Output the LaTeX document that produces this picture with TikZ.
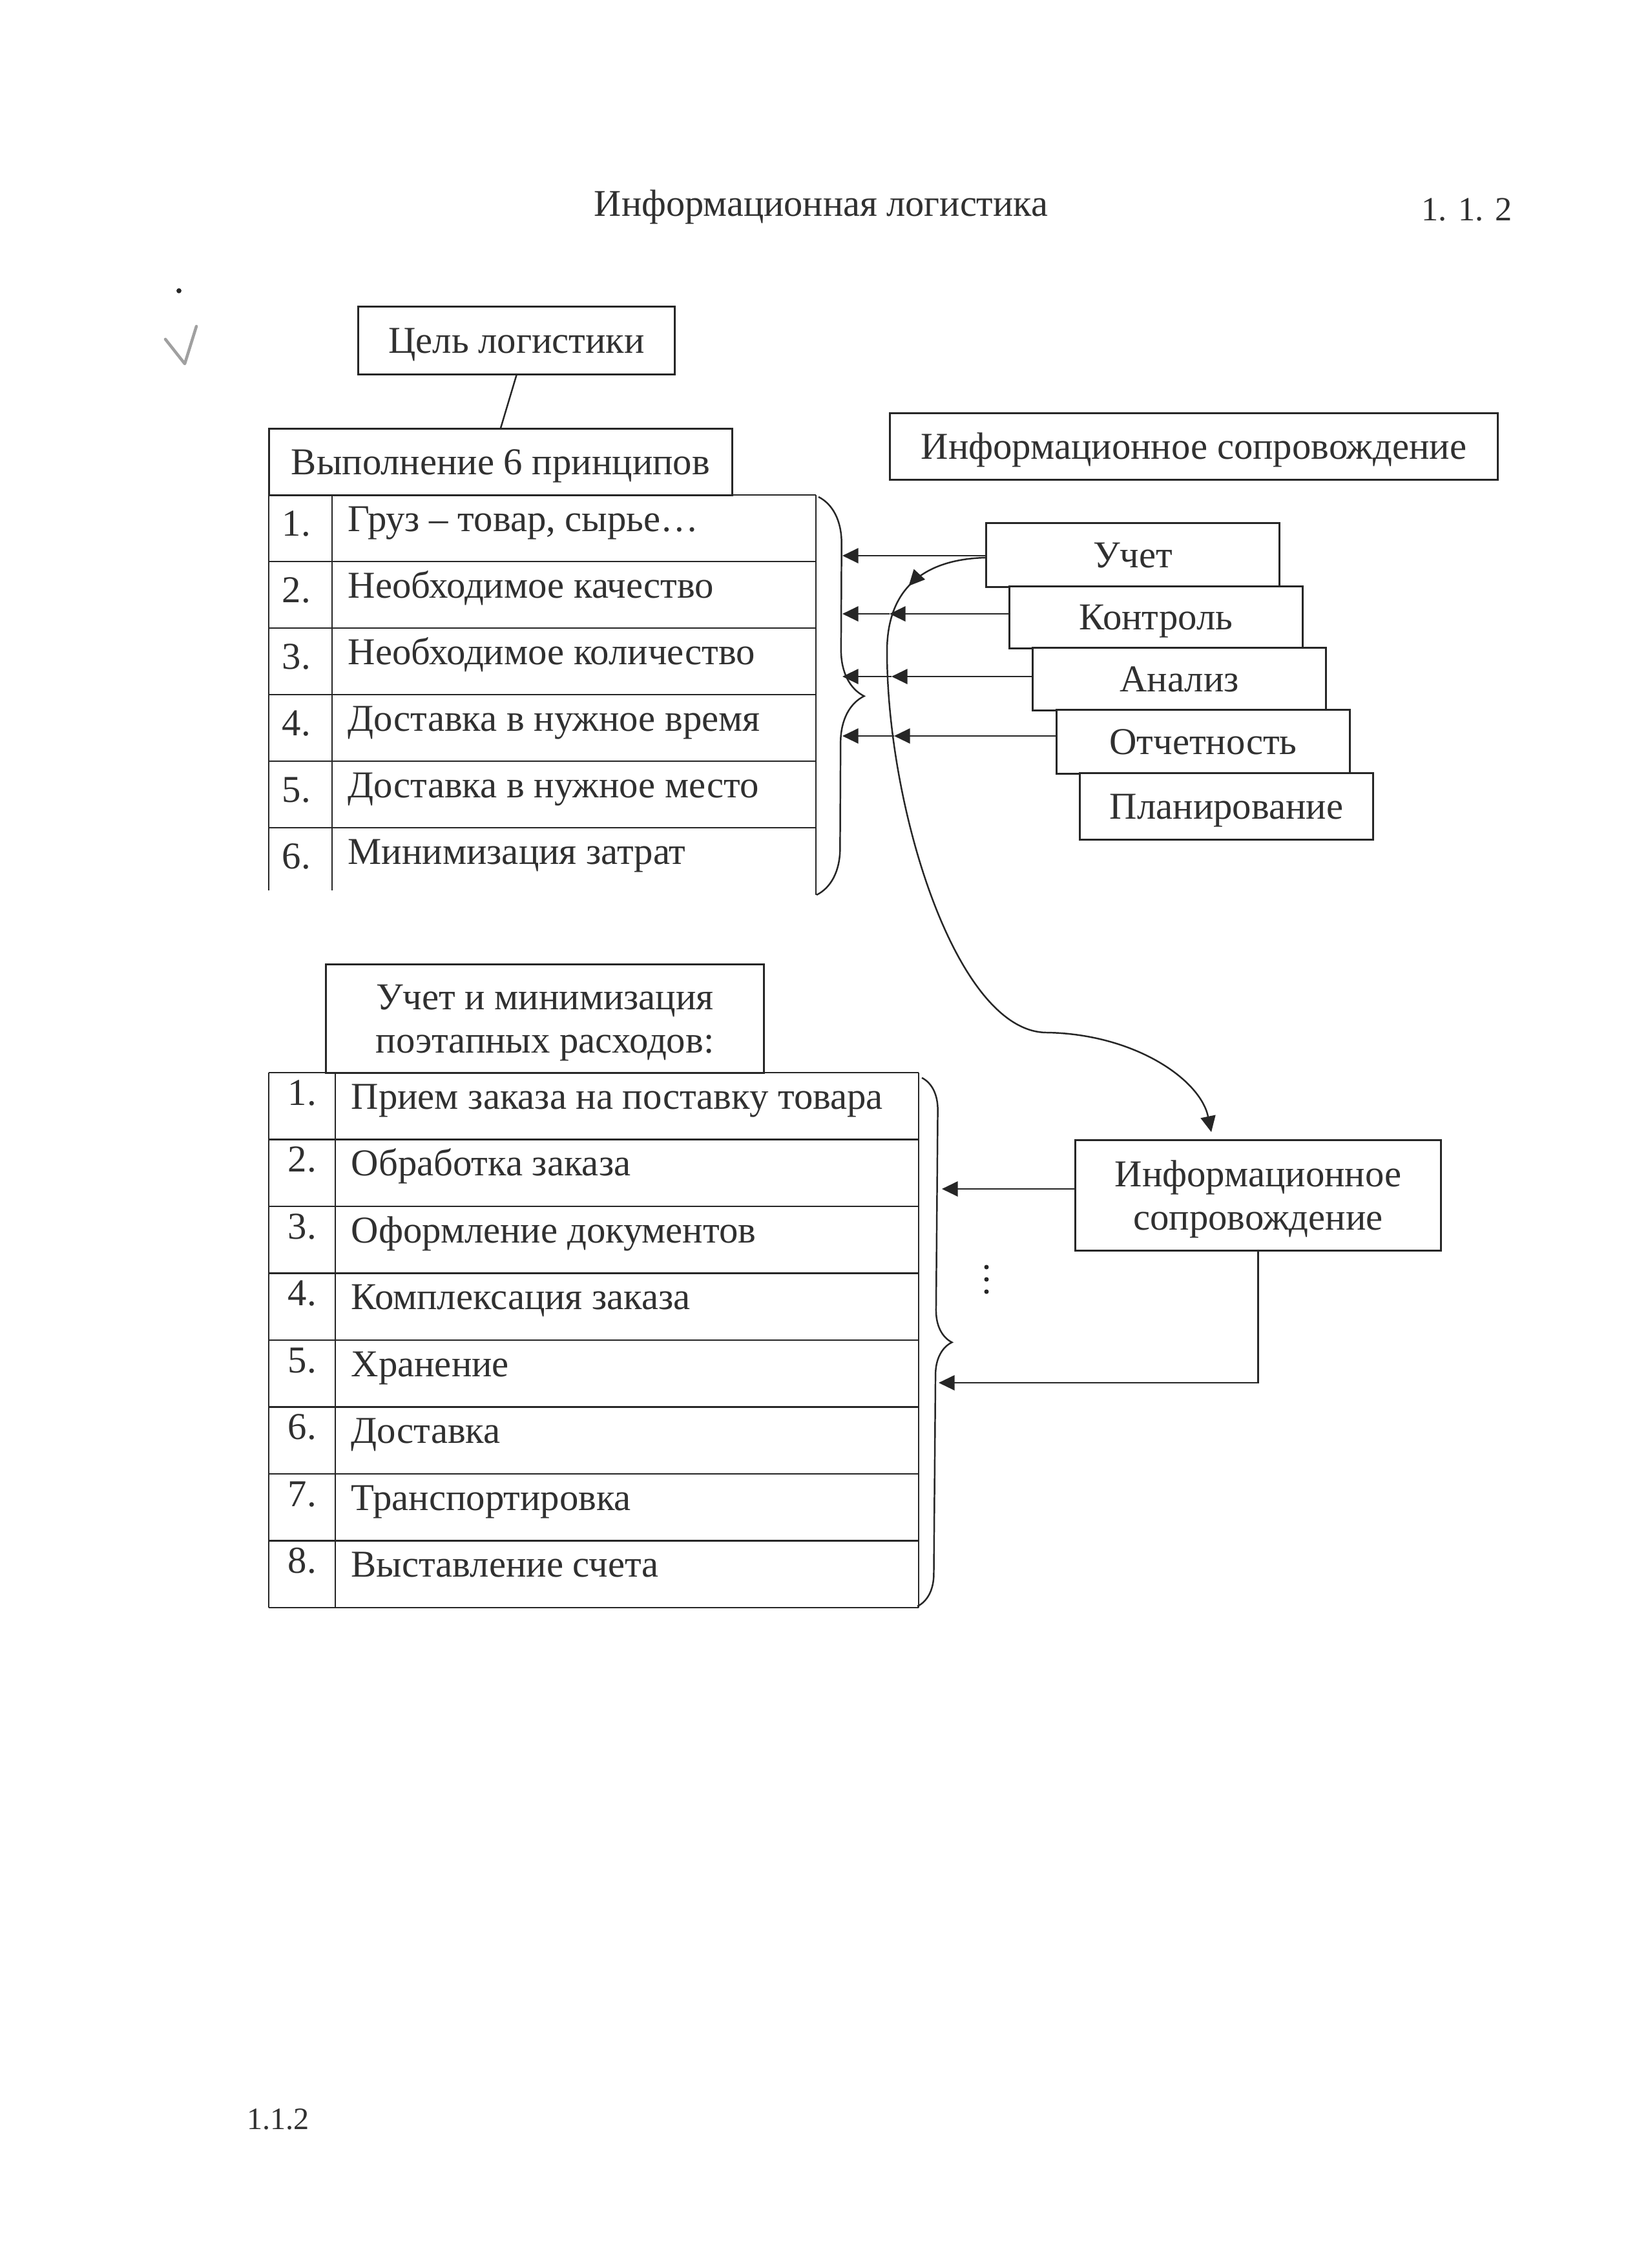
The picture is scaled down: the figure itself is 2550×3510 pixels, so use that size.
\documentclass[tikz,border=0pt]{standalone}
\usepackage{fontspec}
\setmainfont{Liberation Serif}
\usetikzlibrary{arrows.meta,decorations.pathreplacing,decorations.markings,calc}

\definecolor{ink}{HTML}{262626}
\definecolor{txt}{HTML}{303030}
\definecolor{pencil}{HTML}{A0A0A0}

\newcommand{\bodyfont}{\fontsize{16.7}{19}\selectfont}

\begin{document}
\begin{tikzpicture}[x=0.01cm,y=-0.01cm,
  every node/.style={text=txt, inner sep=0pt, font=\bodyfont},
  boxA/.style={draw=ink, line width=0.85pt, fill=white,
    text height=11.05pt, text depth=0pt},
  boxB/.style={draw=ink, line width=0.85pt, fill=white, align=center,
    font=\fontsize{16.7}{19.1}\selectfont, text depth=0pt},
  tline/.style={draw=ink, line width=0.6pt},
  brc/.style={draw=ink, line width=0.7pt, decorate},
  tipA/.style={-{Triangle[length=7pt,width=6.6pt]}},
  arr/.style={draw=ink, line width=0.7pt, tipA},
  conn/.style={draw=ink, line width=0.7pt}
]
% page
\fill[white] (0,0) rectangle (2550,3510);
\useasboundingbox (0,0) rectangle (2550,3510);

% page header and footer
\node[anchor=base, font=\fontsize{16.6}{19}\selectfont] (title) at (1271,335) {Информационная логистика};
\node[anchor=base west, font=\fontsize{14.9}{17}\selectfont] (pnum) at (2200,342) {1. 1. 2};
\node[anchor=base west, font=\fontsize{13.7}{16}\selectfont] (foot) at (382,3295) {1.1.2};

% pencil tick in the margin
\draw[pencil, line width=1.3pt, line cap=round, line join=round]
  (256,525) -- (286,563) -- (304,505);
\fill[ink] (277,450) circle[radius=1.1pt];

% goal and principles
\node[boxA, minimum width=4.89cm, minimum height=1.04cm] (cel) at (799.5,527) {Цель логистики};
\node[boxA, minimum width=7.16cm, minimum height=1.02cm] (vyp) at (775,715) {Выполнение 6 принципов};
\draw[conn] (cel.south) -- (vyp.north);

% table of principles (open at the bottom)
\draw[tline] (416,766) -- (1263,766);
\foreach \yy in {869,972,1075,1178,1281} \draw[tline] (416,\yy) -- (1263,\yy);
\draw[tline] (416,766) -- (416,1378);
\draw[tline] (514,766) -- (514,1378);
\draw[tline] (1263,766) -- (1263,1385);
\foreach \t [count=\i] in {{Груз – товар, сырье…},{Необходимое качество},{Необходимое количество},{Доставка в нужное время},{Доставка в нужное место},{Минимизация затрат}}{
  \pgfmathsetmacro{\top}{766+103*(\i-1)}
  \node[anchor=base] (pn\i) at (459,\top+63) {\i.};
  \node[anchor=base west] (pt\i) at (538,\top+56) {\t};
}

% brace over the principles
\coordinate (br1a) at (1267,769);
\coordinate (br1b) at (1264,1385);
\draw[brc, decoration={brace, amplitude=0.72cm}] (br1a) -- (br1b);

% information support, upper part
\node[boxA, minimum width=9.40cm, minimum height=1.02cm] (info1) at (1848,691) {Информационное сопровождение};
\node[boxA, minimum width=4.53cm, minimum height=0.98cm] (uchet) at (1753.5,859) {Учет};
\node[boxA, minimum width=4.53cm, minimum height=0.95cm] (kontrol) at (1789.5,955.5) {Контроль};
\node[boxA, minimum width=4.53cm, minimum height=0.96cm] (analiz) at (1825.5,1051) {Анализ};
\node[boxA, minimum width=4.53cm, minimum height=0.98cm] (otchet) at (1862.5,1148) {Отчетность};
\node[boxA, minimum width=4.53cm, minimum height=1.02cm] (plan) at (1898.5,1248) {Планирование};

% arrows into the brace
\coordinate (a1) at (1304,860);
\coordinate (a2) at (1304,950);
\coordinate (a3) at (1304,1047);
\coordinate (a4) at (1304,1139);
\coordinate (m2) at (1377,950);
\coordinate (m3) at (1380,1047);
\coordinate (m4) at (1384,1139);
\draw[arr] (uchet.west |- a1) -- (a1);
\draw[arr] (kontrol.west |- a2) -- (m2);
\draw[arr] (m2) -- (a2);
\draw[arr] (analiz.west |- a3) -- (m3);
\draw[arr] (m3) -- (a3);
\draw[arr] (otchet.west |- a4) -- (m4);
\draw[arr] (m4) -- (a4);

% costs by stage
\node[boxB, minimum width=6.77cm, minimum height=1.67cm] (uchmin) at (843.5,1576.5) {Учет и минимизация\\поэтапных расходов:};
\foreach \yy in {0,...,8} \draw[tline] (416,1660+103.5*\yy) -- (1422,1660+103.5*\yy);
\draw[tline] (416,1660) -- (416,2488);
\draw[tline] (519,1660) -- (519,2488);
\draw[tline] (1422,1660) -- (1422,2488);
\foreach \t [count=\i] in {{Прием заказа на поставку товара},{Обработка заказа},{Оформление документов},{Комплексация заказа},{Хранение},{Доставка},{Транспортировка},{Выставление счета}}{
  \pgfmathsetmacro{\top}{1660+103.5*(\i-1)}
  \node[anchor=base] (sn\i) at (468,\top+50) {\i.};
  \node[anchor=base west] (st\i) at (543,\top+56) {\t};
}

% brace over the stages
\coordinate (br2a) at (1427,1668);
\coordinate (br2b) at (1420,2486);
\draw[brc, decoration={brace, amplitude=0.5cm}] (br2a) -- (br2b);

% information support, lower part
\node[boxB, minimum width=5.65cm, minimum height=1.70cm] (info2) at (1947.5,1850) {Информационное\\сопровождение};

% curved link from accounting down to the lower support box
\coordinate (cs) at ($(uchet.west)+(0,4)$);
\coordinate (e1) at (1875,1752);
\draw[conn, tipA, postaction={decorate},
  decoration={markings, mark=at position 1.3cm with {\arrow{Triangle[length=7pt,width=6.6pt]}}}]
  (cs) .. controls (1420,866) and (1373,920) .. (1373,1008)
       .. controls (1373,1250) and (1480,1597) .. (1620,1598)
       .. controls (1755,1600) and (1858,1670) .. (e1);

% arrows into the lower brace
\coordinate (b2a) at (1458,1840);
\coordinate (b2b) at (1453,2140);
\draw[arr] (info2.west |- b2a) -- (b2a);
\draw[arr] (info2.south) |- (b2b);

% vertical ellipsis between the arrows
\foreach \yy in {1961,1980,1999} \fill[ink] (1527,\yy) circle[radius=1pt];
\end{tikzpicture}
\end{document}
